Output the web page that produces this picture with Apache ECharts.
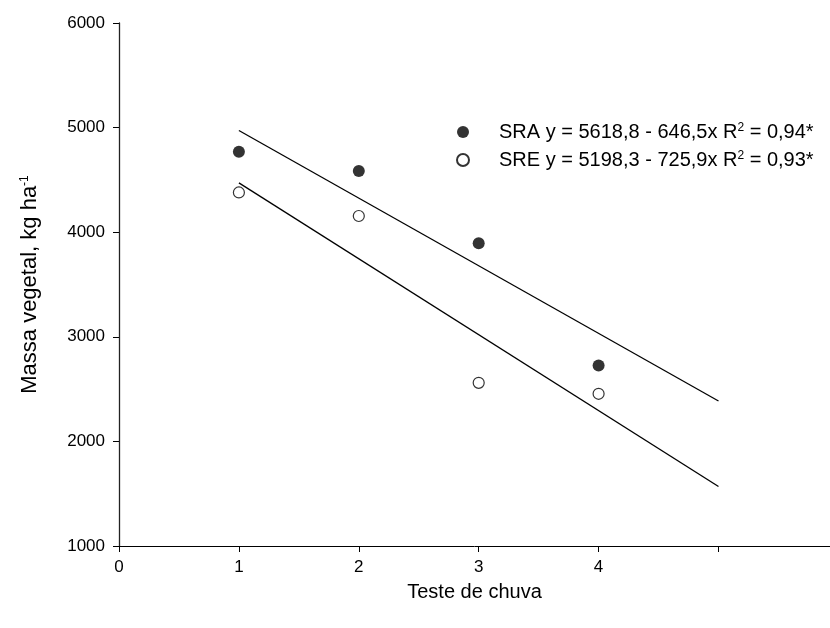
<!DOCTYPE html>
<html>
<head>
<meta charset="utf-8">
<style>
  html, body { margin: 0; padding: 0; background: #fff; }
  #main { width: 830px; height: 628px; }
</style>
<script src="https://cdn.jsdelivr.net/npm/echarts@6/dist/echarts.min.js"></script>
</head>
<body>
<div id="main"></div>
<script>
// test number (x) and plant mass values
const testes = [1, 2, 3, 4]
const sraValues = [4770, 4585, 3895, 2725]
const sreValues = [4380, 4155, 2560, 2455]
// fitted lines, read at x = 1 and x = 5
const fitX = [1, 5]
const sraFit = [4972, 2386]
const sreFit = [4472, 1569]
const xTicks = [0, 1, 2, 3, 4, 5]
const xLabels = [0, 1, 2, 3, 4]

const legendText = {
  SRA: '{t|SRA y = 5618,8 - 646,5x R}{s|2}{t| = 0,94*}',
  SRE: '{t|SRE y = 5198,3 - 725,9x R}{s|2}{t| = 0,93*}',
}

const font = 'Liberation Sans, Arial, sans-serif'
let chart = echarts.init(document.getElementById('main'))

chart.setOption({
  animation: false,
  textStyle: { fontFamily: font, color: '#000' },
  grid: { left: 119, right: 0, top: 23, bottom: 82 },
  legend: {
    orient: 'vertical',
    left: 451,
    top: 117,
    itemWidth: 62,
    itemHeight: 12,
    itemGap: 7,
    data: ['SRA', 'SRE'],
    formatter: (name) => legendText[name],
    textStyle: {
      rich: {
        t: { fontSize: 20, fontFamily: font, color: '#000', lineHeight: 20 },
        s: { fontSize: 12, fontFamily: font, color: '#000', verticalAlign: 'top', lineHeight: 12, padding: [0, 0, 9, 0] },
      },
    },
  },
  xAxis: {
    type: 'value',
    min: 0,
    max: 5.93,
    name: 'Teste de chuva',
    nameLocation: 'middle',
    nameGap: 36,
    nameTextStyle: { fontSize: 20, fontFamily: font, color: '#000' },
    axisLine: { show: true, lineStyle: { color: '#000', width: 1 } },
    axisTick: { show: true, length: 6, customValues: xTicks, lineStyle: { color: '#000' } },
    axisLabel: { customValues: xLabels, fontSize: 17, color: '#000', margin: 13 },
    splitLine: { show: false },
  },
  yAxis: {
    type: 'value',
    min: 1000,
    max: 6000,
    interval: 1000,
    name: '{a|Massa vegetal, kg ha}{s|-1}',
    nameLocation: 'middle',
    nameGap: 78,
    nameTextStyle: {
      rich: {
        a: { fontSize: 22, fontFamily: font, color: '#000', lineHeight: 22 },
        s: { fontSize: 12, fontFamily: font, color: '#000', verticalAlign: 'top', lineHeight: 12, padding: [0, 0, 10, 0] },
      },
    },
    axisLine: { show: true, lineStyle: { color: '#222', width: 1.3 } },
    axisTick: { show: true, length: 6, lineStyle: { color: '#000' } },
    axisLabel: { fontSize: 17, color: '#000', margin: 14, formatter: (v) => String(v) },
    splitLine: { show: false },
  },
  series: [
    {
      name: 'SRA fit',
      type: 'line',
      data: fitX.map((x, i) => [x, sraFit[i]]),
      symbol: 'none',
      lineStyle: { color: '#000', width: 1.3 },
      z: 1,
    },
    {
      name: 'SRE fit',
      type: 'line',
      data: fitX.map((x, i) => [x, sreFit[i]]),
      symbol: 'none',
      lineStyle: { color: '#000', width: 1.3 },
      z: 1,
    },
    {
      name: 'SRA',
      type: 'scatter',
      symbol: 'circle',
      symbolSize: 12,
      itemStyle: { color: '#000' },
      data: testes.map((x, i) => [x, sraValues[i]]),
      z: 3,
    },
    {
      name: 'SRE',
      type: 'scatter',
      symbol: 'circle',
      symbolSize: 11,
      itemStyle: { color: '#fff', borderColor: '#000', borderWidth: 1.2 },
      data: testes.map((x, i) => [x, sreValues[i]]),
      z: 3,
    },
  ],
})
</script>
</body>
</html>
